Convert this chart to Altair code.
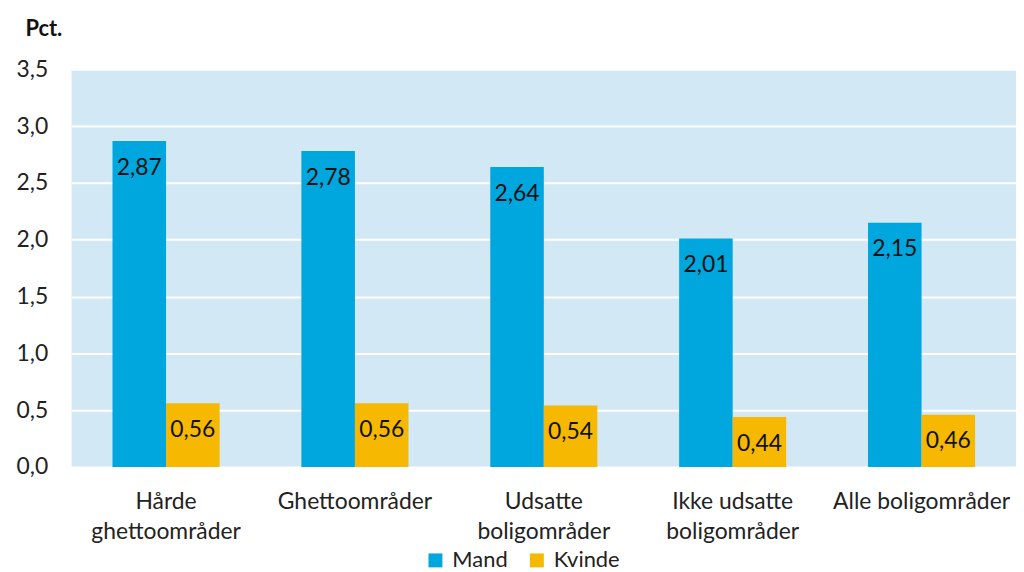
import altair as alt
import pandas as pd

categories = ["Hårde\nghettoområder", "Ghettoområder", "Udsatte\nboligområder",
              "Ikke udsatte\nboligområder", "Alle boligområder"]
series = ["Mand", "Kvinde"]
mand = [2.87, 2.78, 2.64, 2.01, 2.15]
kvinde = [0.56, 0.56, 0.54, 0.44, 0.46]
colors = ["#00A6DE", "#F6B800"]

rows = []
for i, c in enumerate(categories):
    rows.append({"cat": c, "serie": "Mand", "value": mand[i]})
    rows.append({"cat": c, "serie": "Kvinde", "value": kvinde[i]})
df = pd.DataFrame(rows)

FONT = "Lato"
FS = 23

x = alt.X("cat:N", sort=categories,
          scale=alt.Scale(paddingInner=0.433, paddingOuter=0.2165),
          axis=alt.Axis(title=None, labelAngle=0, domain=False, ticks=False,
                        labelExpr="split(datum.label, '\\n')",
                        labelFontSize=FS, labelFont=FONT, labelColor="#222222",
                        labelPadding=35, labelLineHeight=30, labelBaseline="middle"))
xo = alt.XOffset("serie:N", sort=series)
y = alt.Y("value:Q", scale=alt.Scale(domain=[0, 3.5]),
          axis=alt.Axis(values=[0, 0.5, 1, 1.5, 2, 2.5, 3, 3.5],
                        labelExpr="replace(format(datum.value, '.1f'), '.', ',')",
                        domain=False, ticks=False, labelPadding=24,
                        labelFontSize=FS, labelFont=FONT, labelColor="#222222",
                        gridColor="white", gridWidth=2,
                        title="Pct.", titleAngle=0, titleX=-47, titleY=-41,
                        titleAlign="left", titleBaseline="middle",
                        titleFontSize=22, titleFont=FONT, titleFontWeight="bold",
                        titleColor="#111111"))

bars = alt.Chart(df).mark_bar().encode(
    x=x, xOffset=xo, y=y,
    color=alt.Color("serie:N", sort=series,
                    scale=alt.Scale(domain=series, range=colors),
                    legend=alt.Legend(title=None, orient="none", direction="horizontal",
                                      legendX=355, legendY=483,
                                      symbolType="square", symbolSize=196,
                                      symbolStrokeWidth=0,
                                      labelFontSize=22, labelFont=FONT,
                                      labelColor="#222222", columnPadding=18,
                                      labelOffset=6)),
)

text = alt.Chart(df).transform_calculate(
    lbl="replace(format(datum.value, '.2f'), '.', ',')"
).mark_text(dy=27, baseline="middle", fontSize=FS, font=FONT, color="#111111").encode(
    x=x, xOffset=xo, y=y, text="lbl:N"
)

chart = (bars + text).properties(
    width=950, height=400,
    autosize=alt.AutoSizeParams(type="none"),
    padding={"left": 64, "top": 60, "right": 0, "bottom": 104},
).configure_view(fill="#D3E8F5", stroke=None)

chart.save("out.html", embed_options={"renderer": "svg", "actions": False})
